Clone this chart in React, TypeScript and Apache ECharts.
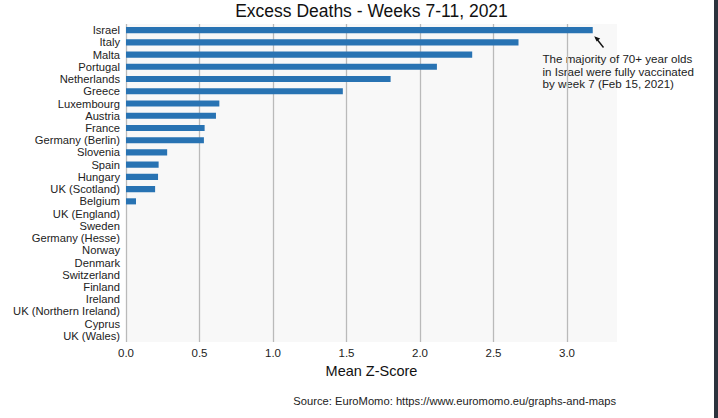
import { useEffect, useRef } from "react";
import * as echarts from "echarts";

const countries = [
  "Israel",
  "Italy",
  "Malta",
  "Portugal",
  "Netherlands",
  "Greece",
  "Luxembourg",
  "Austria",
  "France",
  "Germany (Berlin)",
  "Slovenia",
  "Spain",
  "Hungary",
  "UK (Scotland)",
  "Belgium",
  "UK (England)",
  "Sweden",
  "Germany (Hesse)",
  "Norway",
  "Denmark",
  "Switzerland",
  "Finland",
  "Ireland",
  "UK (Northern Ireland)",
  "Cyprus",
  "UK (Wales)",
];

const zScores = [
  3.175, 2.67, 2.355, 2.115, 1.8, 1.475, 0.635, 0.612, 0.535, 0.53, 0.28, 0.222, 0.218, 0.198,
  0.068, 0, 0, 0, 0, 0, 0, 0, 0, 0, 0, 0,
];

const noteLines = [
  "The majority of 70+ year olds",
  "in Israel were fully vaccinated",
  "by week 7 (Feb 15, 2021)",
];

const FONT = "'Liberation Sans', Arial, Helvetica, sans-serif";

export default function App() {
  const chartRef = useRef<HTMLDivElement | null>(null);

  useEffect(() => {
    document.body.style.margin = "0";
    if (!chartRef.current) {
      return;
    }

    const chart = echarts.init(chartRef.current, null, { renderer: "svg" });

    chart.setOption({
      animation: false,
      backgroundColor: "#ffffff",
      textStyle: { fontFamily: FONT },
      grid: {
        left: 126,
        right: 101,
        top: 24,
        height: 318,
        show: true,
        backgroundColor: "#f8f8f8",
        borderWidth: 0,
        containLabel: false,
      },
      xAxis: {
        type: "value",
        min: 0,
        max: 3.34,
        interval: 0.5,
        axisLine: { show: false },
        axisTick: { show: false },
        axisLabel: {
          color: "#222",
          fontSize: 11.5,
          margin: 5,
          showMaxLabel: false,
          formatter: (v: number) => (v > 3.2 ? "" : v.toFixed(1)),
        },
        splitLine: {
          show: true,
          showMaxLine: false,
          lineStyle: { color: "#bababa", width: 1.3 },
        },
        name: "Mean Z-Score",
        nameLocation: "middle",
        nameGap: 20,
        nameTextStyle: { color: "#111", fontSize: 14.5, verticalAlign: "top" },
      },
      yAxis: {
        type: "category",
        data: countries,
        inverse: true,
        axisLine: { show: false },
        axisTick: { show: false },
        splitLine: { show: false },
        axisLabel: { color: "#222", fontSize: 11.2, lineHeight: 11.5, margin: 6, interval: 0 },
      },
      series: [
        {
          type: "bar",
          data: zScores,
          barCategoryGap: "50%",
          itemStyle: { color: "#2873b3" },
        },
      ],
      graphic: [
        {
          type: "text",
          x: 371.5,
          y: 11,
          style: {
            text: "Excess Deaths - Weeks 7-11, 2021",
            font: `17.5px ${FONT}`,
            fill: "#111",
            align: "center",
            verticalAlign: "middle",
          },
        },
        {
          type: "line",
          shape: { x1: 596, y1: 38, x2: 603.5, y2: 47.5 },
          style: { stroke: "#111", lineWidth: 1.4 },
        },
        {
          type: "polygon",
          shape: {
            points: [
              [594.2, 36.2],
              [600.2, 38.6],
              [596.6, 41.4],
            ],
          },
          style: { fill: "#111" },
        },
        ...noteLines.map((line, i) => ({
          type: "text",
          x: 542.5,
          y: 58.7 + i * 12.4,
          style: {
            text: line,
            font: `11.6px ${FONT}`,
            fill: "#222",
            align: "left",
            verticalAlign: "middle",
          },
        })),
        {
          type: "text",
          x: 616,
          y: 401,
          style: {
            text: "Source: EuroMomo: https://www.euromomo.eu/graphs-and-maps",
            font: `11.2px ${FONT}`,
            fill: "#222",
            align: "right",
            verticalAlign: "middle",
          },
        },
        {
          type: "rect",
          shape: { x: 714, y: 0, width: 4, height: 418 },
          style: { fill: "#2b333d" },
        },
      ],
    });

    return () => {
      chart.dispose();
    };
  }, []);

  return <div ref={chartRef} style={{ width: 718, height: 418 }} />;
}
